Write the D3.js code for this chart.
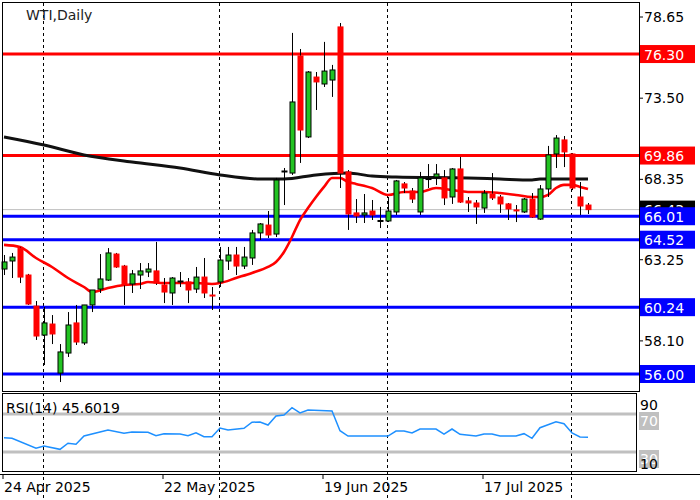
<!DOCTYPE html>
<html><head><meta charset="utf-8">
<script src="https://cdn.jsdelivr.net/npm/d3@7"></script>
<style>body{margin:0;background:#fff}text{font-family:"DejaVu Sans",Arial,sans-serif}</style>
</head><body><svg id="chart" width="700" height="500"></svg>
<script>
// ---- data ----
var opens  = [62.66,63.17,63.99,62.28,60.31,58.47,59.17,56.06,57.33,59.24,57.97,60.38,61.39,61.96,63.61,62.85,61.71,62.28,62.47,62.54,61.65,61.14,61.84,61.84,61.39,62.15,61.01,61.84,63.17,63.55,62.85,63.36,64.95,65.45,64.88,68.85,68.75,76.18,71.04,74.84,74.40,74.65,78.02,68.82,66.22,66.09,66.34,65.71,65.71,66.28,68.06,67.61,66.28,68.37,68.50,68.44,67.23,69.01,66.98,66.85,66.53,67.42,67.23,66.79,66.41,66.28,67.10,65.83,67.74,69.96,70.85,69.96,67.23,66.72];
var highs  = [63.55,63.68,64.06,62.35,60.63,60.25,59.74,57.90,59.93,60.38,60.38,61.33,63.61,63.99,63.68,62.92,62.60,63.04,63.04,64.38,62.09,62.15,62.47,62.09,62.79,63.36,61.52,64.06,64.06,64.06,64.06,65.14,65.58,66.34,68.44,69.07,77.64,76.62,75.22,75.16,77.07,75.61,78.27,68.94,67.10,67.42,67.04,66.60,67.23,68.31,68.18,67.80,68.82,69.32,69.32,68.94,69.07,69.77,67.23,67.04,67.67,68.75,67.36,66.85,66.72,67.17,67.48,67.99,70.47,71.16,71.10,70.02,68.18,66.85];
var lows   = [62.28,62.09,61.77,60.38,58.16,56.57,57.90,55.49,57.08,57.84,57.84,59.93,61.14,61.90,62.73,60.38,61.14,61.39,62.15,61.65,60.50,60.38,61.52,60.50,61.14,60.82,60.06,61.52,62.60,62.28,62.66,62.92,64.50,64.63,64.69,66.72,68.63,69.39,70.97,72.75,74.21,73.58,67.80,65.14,65.58,65.58,65.77,65.26,65.64,66.09,67.48,66.85,66.09,67.80,67.99,66.72,66.79,66.85,66.28,65.52,66.22,67.04,66.22,65.77,65.64,66.22,65.90,65.77,67.23,69.07,69.13,67.67,66.09,66.15];
var closes = [63.11,63.42,62.15,60.44,58.41,59.24,58.54,57.40,59.11,58.03,60.38,61.33,62.03,63.68,62.79,61.65,62.35,62.54,62.66,61.77,61.20,62.09,61.90,61.33,62.15,61.14,61.00,63.23,63.55,62.85,63.42,64.95,65.52,64.82,68.31,68.88,73.26,71.48,75.16,74.53,75.22,75.29,68.75,66.15,66.03,66.22,66.09,65.74,66.34,68.25,67.80,67.10,68.44,68.40,68.69,67.17,69.01,66.91,66.85,66.60,67.48,67.17,66.79,66.47,66.40,67.10,65.96,67.74,69.90,70.97,70.09,67.80,66.66,66.43];

// moving averages, [bar, price]
var maFast = [[0,64.19],[2,64.06],[4,63.36],[6,62.79],[8,62.09],[10,61.52],[11,61.20],[13,61.46],[15,61.65],[17,61.71],[18,61.84],[20,61.77],[22,61.77],[24,61.77],[26,61.71],[27,61.77],[29,62.09],[31,62.41],[33,62.79],[34,63.11],[35,63.74],[36,64.69],[37,65.77],[38,66.53],[39,67.23],[40,67.87],[41,68.44],[42,68.44],[43,68.18],[44,68.06],[46,67.80],[48,67.36],[50,67.55],[52,67.55],[54,67.80],[56,67.67],[58,67.55],[60,67.55],[62,67.48],[64,67.36],[66,67.23],[67,67.23],[68,67.36],[69,67.80],[70,68.00],[71,68.00],[72,67.87],[73,67.74]];
var maSlow = [[0,71.04],[5,70.53],[10,69.90],[16,69.45],[22,69.07],[27,68.63],[32,68.37],[35,68.37],[39,68.63],[43,68.75],[46,68.56],[49,68.50],[58,68.44],[62,68.37],[66,68.31],[67,68.37],[73,68.37]];

var rsi = [[0,45.1],[1,44.4],[4,33.9],[5,36.3],[7,32.8],[8,39.2],[9,38.1],[10,46.8],[13,53.2],[15,49.7],[16,51.1],[18,50.7],[19,47.2],[20,49.3],[22,48.9],[23,47.2],[24,50.3],[25,46.1],[26,46.1],[27,55.3],[28,53.2],[30,54.9],[31,61.3],[32,61.6],[33,58.4],[34,67.9],[35,69.0],[36,76.6],[37,71.1],[38,74.2],[41,73.2],[42,52.4],[43,46.8],[48,46.8],[49,52.1],[50,52.1],[51,50.0],[52,54.2],[54,54.2],[55,48.9],[56,54.2],[57,48.6],[59,46.8],[60,48.9],[61,48.9],[62,46.8],[64,46.8],[65,49.3],[66,44.4],[67,55.6],[69,61.9],[70,59.8],[71,50.0],[72,45.8],[73,45.6]];

var resistance = [76.30, 69.86];
var support = [66.01, 64.52, 60.24, 56.00];
var lastPrice = 66.43;
var priceTicks = [78.65, 73.50, 68.35, 63.25, 58.10];
var dateLabels = [[0,"24 Apr 2025"],[20,"22 May 2025"],[40,"19 Jun 2025"],[60,"17 Jul 2025"]];
var separators = [5, 27, 48, 71];
var rsiLevels = [70, 30];

// ---- layout ----
var svg = d3.select("#chart");
var L = 3, R = 639, TOP = 3, BOT = 391, RTOP = 394, RBOT = 471;
var x = d3.scaleLinear().domain([0, 1]).range([4, 12]);
var y = d3.scaleLinear().domain([56, 78.65]).range([374, 17]);
var yr = d3.scaleLinear().domain([10, 90]).range([RBOT, RTOP + 1]);

// separators
separators.forEach(function(i){
	svg.append("line").attr("x1", x(i)-0.5).attr("x2", x(i)-0.5).attr("y1", TOP).attr("y2", 500)
		.attr("stroke", "#000").attr("stroke-dasharray", "3,3").attr("stroke-width", 1);
});

// last price grey line
svg.append("line").attr("x1", L).attr("x2", R).attr("y1", y(lastPrice)).attr("y2", y(lastPrice))
	.attr("stroke", "#c0c0c0").attr("stroke-width", 1);

// levels
function drawLevel(v, col){
	svg.append("line").attr("x1", L).attr("x2", R).attr("y1", y(v)).attr("y2", y(v))
		.attr("stroke", col).attr("stroke-width", 3);
}
resistance.forEach(function(v){ drawLevel(v, "#ff0000"); });
support.forEach(function(v){ drawLevel(v, "#0000ff"); });

// moving averages
var line = d3.line().x(function(d){return x(d[0]);}).y(function(d){return y(d[1]);}).curve(d3.curveMonotoneX);
svg.append("path").datum(maSlow).attr("d", line).attr("fill", "none").attr("stroke", "#111").attr("stroke-width", 3);
svg.append("path").datum(maFast).attr("d", line).attr("fill", "none").attr("stroke", "#ff0000").attr("stroke-width", 2.6);

// candles
var gC = svg.append("g");
opens.forEach(function(o, i){
	var c = closes[i], up = c >= o;
	var cx = Math.round(x(i)) + 0.5;
	gC.append("line").attr("x1", cx).attr("x2", cx).attr("y1", y(highs[i])).attr("y2", y(lows[i]))
		.attr("stroke", "#000").attr("stroke-width", 1);
	var top = y(Math.max(o, c)), h = Math.max(1, y(Math.min(o, c)) - top);
	gC.append("rect").attr("x", cx - 2.5).attr("y", top).attr("width", 5).attr("height", h)
		.attr("fill", up ? "#22c322" : "#ff0000").attr("stroke", up ? "#000" : "#ff0000").attr("stroke-width", 1);
});

// frames
svg.append("rect").attr("x", L-0.5).attr("y", TOP-0.5).attr("width", R-L+1).attr("height", BOT-TOP+1)
	.attr("fill", "none").attr("stroke", "#000");
svg.append("rect").attr("x", L-0.5).attr("y", RTOP-0.5).attr("width", R-L-2).attr("height", RBOT-RTOP+1)
	.attr("fill", "none").attr("stroke", "#000");
svg.append("line").attr("x1", 0).attr("x2", 700).attr("y1", 474.5).attr("y2", 474.5).attr("stroke", "#000");

// price axis
priceTicks.forEach(function(v){
	svg.append("line").attr("x1", R).attr("x2", R+4).attr("y1", y(v)).attr("y2", y(v)).attr("stroke", "#000");
	svg.append("text").attr("x", 644).attr("y", y(v)+5).attr("font-size", 14).text(v.toFixed(2));
});
function priceBox(v, col, tcol){
	svg.append("rect").attr("x", 640).attr("y", y(v)-9).attr("width", 55).attr("height", 18).attr("fill", col);
	svg.append("text").attr("x", 644).attr("y", y(v)+5.5).attr("font-size", 14).attr("fill", tcol).text(v.toFixed(2));
}
priceBox(lastPrice, "#000", "#fff");
resistance.forEach(function(v){ priceBox(v, "#ff0000", "#fff"); });
support.forEach(function(v){ priceBox(v, "#0000ff", "#fff"); });

svg.append("text").attr("x", 26).attr("y", 20).attr("font-size", 14).attr("fill", "#222").text("WTI,Daily");

// RSI
rsiLevels.forEach(function(v){
	svg.append("line").attr("x1", L).attr("x2", R-3).attr("y1", yr(v)).attr("y2", yr(v))
		.attr("stroke", "#c0c0c0").attr("stroke-width", 3);
	svg.append("rect").attr("x", 639).attr("y", yr(v)-2).attr("width", 20).attr("height", 18).attr("fill", "#c0c0c0");
	svg.append("text").attr("x", 640).attr("y", yr(v)+12).attr("font-size", 14).attr("fill", "#fff").text(v);
});
svg.append("text").attr("x", 640).attr("y", RTOP+16).attr("font-size", 14).text("90");
svg.append("text").attr("x", 640).attr("y", RBOT-2).attr("font-size", 14).text("10");
var rline = d3.line().x(function(d){return x(d[0]);}).y(function(d){return yr(d[1]);});
svg.append("path").datum(rsi).attr("d", rline).attr("fill", "none").attr("stroke", "#1e90ff").attr("stroke-width", 1.5);
svg.append("text").attr("x", 6).attr("y", 413).attr("font-size", 14).text("RSI(14) 45.6019");

// date axis
dateLabels.forEach(function(d){
	var xx = x(d[0]) - 1;
	svg.append("line").attr("x1", xx).attr("x2", xx).attr("y1", 474).attr("y2", 479).attr("stroke", "#000");
	svg.append("text").attr("x", xx + 1).attr("y", 492).attr("font-size", 14).text(d[1]);
});
</script></body></html>
